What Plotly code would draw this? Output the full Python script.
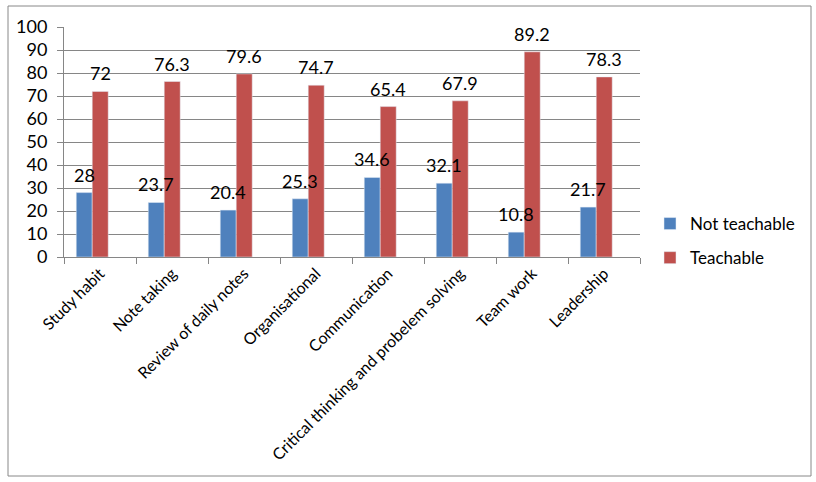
import plotly.graph_objects as go

categories = ["Study habit", "Note taking", "Review of daily notes", "Organisational",
              "Communication", "Critical thinking and probelem solving", "Team work", "Leadership"]
not_teachable = [28, 23.7, 20.4, 25.3, 34.6, 32.1, 10.8, 21.7]
teachable = [72, 76.3, 79.6, 74.7, 65.4, 67.9, 89.2, 78.3]
y_ticks = list(range(0, 101, 10))

BLUE = "#4F81BD"
RED = "#C0504D"
GRID = "#868686"
FONT = "Lato"

BAR_W = 0.222
OFF_BLUE = -0.33
OFF_RED = OFF_BLUE + BAR_W

pos = list(range(len(categories)))

fig = go.Figure()
series = [("Not teachable", not_teachable, BLUE, OFF_BLUE, "a"),
          ("Teachable", teachable, RED, OFF_RED, "b")]
for name, vals, col, off, grp in series:
    fig.add_trace(go.Bar(
        x=pos, y=vals, name=name, marker_color=col,
        width=BAR_W, offset=off, legendgroup=grp,
    ))

annotations = []
for name, vals, col, off, grp in series:
    for i, v in zip(pos, vals):
        annotations.append(dict(
            x=i + off + BAR_W / 2, y=v, xref="x", yref="y",
            text=f"{v:g}", showarrow=False, yanchor="bottom", yshift=5,
            font=dict(family=FONT, size=18, color="black"),
        ))

L, R, T, B = 64, 176, 27, 225
W, H = 816, 482
pw, ph = W - L - R, H - T - B

def px_to_paper_x(px):
    return (px - L) / pw

def py_to_paper_y(py):
    return (H - B - py) / ph

fig.update_layout(
    width=W, height=H,
    margin=dict(l=L, r=R, t=T, b=B, autoexpand=False),
    paper_bgcolor="white", plot_bgcolor="white",
    barmode="overlay",
    font=dict(family=FONT, size=17, color="black"),
    showlegend=True,
    legend=dict(
        x=px_to_paper_x(650), xanchor="left",
        y=py_to_paper_y(241), yanchor="middle",
        font=dict(family=FONT, size=17, color="black"),
        traceorder="grouped", tracegroupgap=9,
        itemwidth=30, bgcolor="rgba(0,0,0,0)",
    ),
    xaxis=dict(
        range=[-0.5, len(categories) - 0.5],
        tickmode="array", tickvals=pos, ticktext=categories,
        tickangle=-45, ticks="", showgrid=False, zeroline=False,
        showline=True, linecolor=GRID, linewidth=1,
        tickfont=dict(family=FONT, size=16, color="black"),
        minor=dict(tickmode="linear", tick0=-0.5, dtick=1, ticks="outside",
                   ticklen=6, tickcolor=GRID, showgrid=False),
    ),
    yaxis=dict(
        range=[0, 100], tickmode="array", tickvals=y_ticks,
        showgrid=True, gridcolor=GRID, gridwidth=1, zeroline=False,
        showline=True, linecolor=GRID, linewidth=1,
        ticks="outside", ticklen=6, tickcolor=GRID, ticklabelstandoff=6,
        tickfont=dict(family=FONT, size=18, color="black"),
    ),
    annotations=annotations,
    shapes=[dict(
        type="rect", xref="paper", yref="paper",
        x0=px_to_paper_x(8), x1=px_to_paper_x(811),
        y0=py_to_paper_y(476), y1=py_to_paper_y(6),
        line=dict(color="#888888", width=1), fillcolor="rgba(0,0,0,0)", layer="below",
    )],
)

fig.write_html("out.html", config={"displayModeBar": False},
               post_script="document.body.style.margin='0';")
